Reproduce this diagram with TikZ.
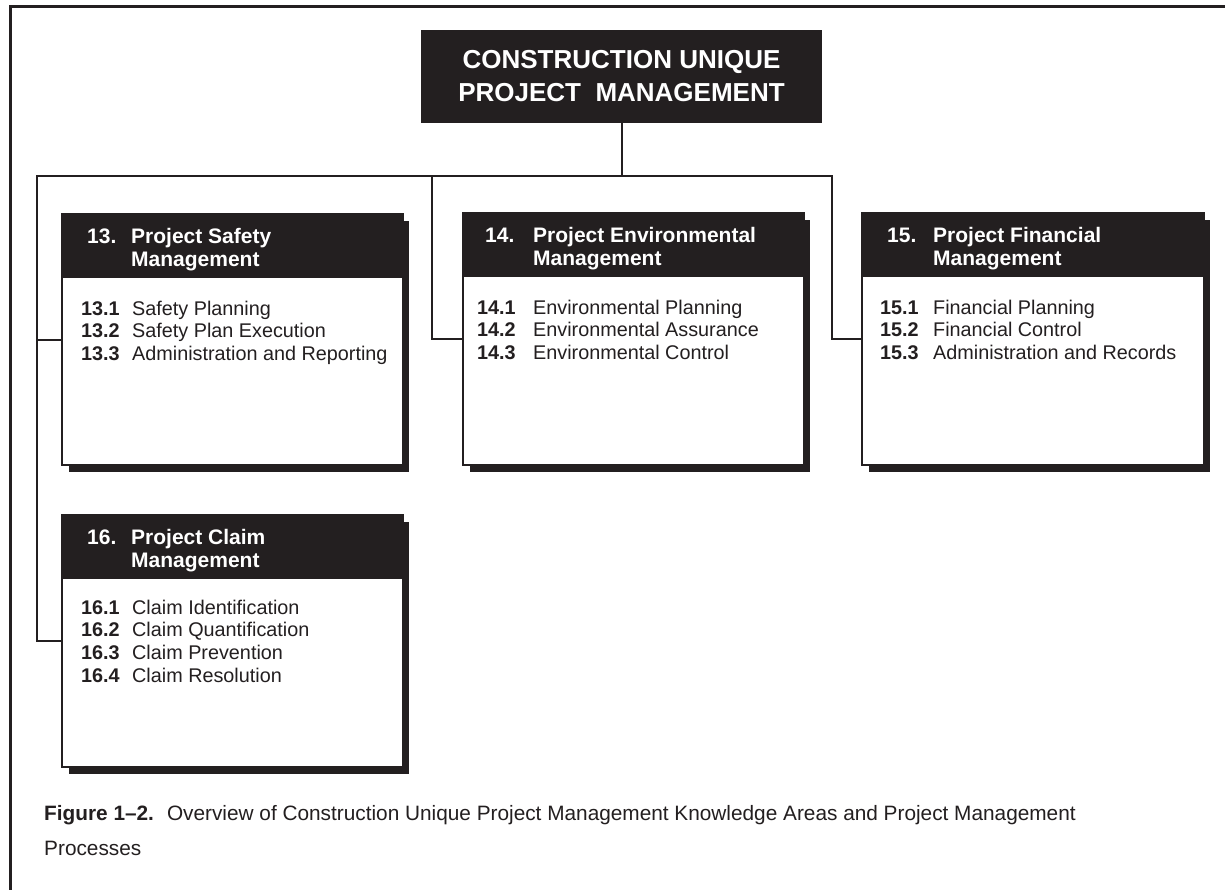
\documentclass[tikz,border=0pt]{standalone}
\usepackage{fontspec}
\setmainfont{Liberation Sans}
\usetikzlibrary{positioning}
\definecolor{ink}{HTML}{231F20}
\tikzset{
  conn/.style={draw=ink, line width=2pt},
  shadowbox/.style={fill=ink},
  bodybox/.style={draw=ink, fill=white, line width=2pt, anchor=north west, inner sep=0pt},
  headbox/.style={fill=ink, anchor=north west, inner sep=0pt},
  headtext/.style={text=white, anchor=west, inner sep=0pt, font=\fontsize{21}{23.5}\selectfont\bfseries},
  itemtext/.style={text=ink, anchor=north west, inner sep=0pt, font=\fontsize{19.8}{22.7}\selectfont},
  topbox/.style={fill=ink, text=white, align=center, inner sep=0pt, font=\fontsize{26}{33}\selectfont\bfseries},
  captext/.style={text=ink, anchor=north west, align=left, inner sep=0pt, font=\fontsize{20.8}{35}\selectfont}
}
\begin{document}
\begin{tikzpicture}[x=1pt,y=-1pt]
\useasboundingbox (0,0) rectangle (1225,890);
\fill[white] (0,0) rectangle (1225,890);
% frame
\draw[ink, line width=3pt] (10,890) -- (10,7) -- (1225,7);
% top box
\node[topbox, minimum width=401pt, minimum height=93pt] (top) at (621.5,76.5) {CONSTRUCTION UNIQUE\\PROJECT\ \ MANAGEMENT};
% box 13
\fill[shadowbox] (69,221) rectangle (409,472);
\node[bodybox, minimum width=341pt, minimum height=251pt] (b13) at (61,213) {};
\node[headbox, minimum width=341pt, minimum height=65pt] (h13) at (61,213) {};
\node[headtext] (t13) at (87,250.5) {\begin{tabular}{@{}p{44pt}@{}l@{}}13.&Project Safety\\&Management\end{tabular}};
\node[itemtext] (i13) at (81,299) {\begin{tabular}{@{}p{51pt}@{}l@{}}\textbf{13.1}&Safety Planning\\\textbf{13.2}&Safety Plan Execution\\\textbf{13.3}&Administration and Reporting\end{tabular}};
% box 14
\fill[shadowbox] (470,220) rectangle (810,472);
\node[bodybox, minimum width=341pt, minimum height=252pt] (b14) at (462,212) {};
\node[headbox, minimum width=341pt, minimum height=65pt] (h14) at (462,212) {};
\node[headtext] (t14) at (485,249.5) {\begin{tabular}{@{}p{48pt}@{}l@{}}14.&Project Environmental\\&Management\end{tabular}};
\node[itemtext] (i14) at (477,298) {\begin{tabular}{@{}p{56pt}@{}l@{}}\textbf{14.1}&Environmental Planning\\\textbf{14.2}&Environmental Assurance\\\textbf{14.3}&Environmental Control\end{tabular}};
% box 15
\fill[shadowbox] (869,220) rectangle (1210,472);
\node[bodybox, minimum width=342pt, minimum height=252pt] (b15) at (861,212) {};
\node[headbox, minimum width=342pt, minimum height=65pt] (h15) at (861,212) {};
\node[headtext] (t15) at (887,249.5) {\begin{tabular}{@{}p{46pt}@{}l@{}}15.&Project Financial\\&Management\end{tabular}};
\node[itemtext] (i15) at (880,298) {\begin{tabular}{@{}p{53pt}@{}l@{}}\textbf{15.1}&Financial Planning\\\textbf{15.2}&Financial Control\\\textbf{15.3}&Administration and Records\end{tabular}};
% box 16
\fill[shadowbox] (69,522) rectangle (409,774);
\node[bodybox, minimum width=341pt, minimum height=252pt] (b16) at (61,514) {};
\node[headbox, minimum width=341pt, minimum height=65pt] (h16) at (61,514) {};
\node[headtext] (t16) at (87,551.5) {\begin{tabular}{@{}p{44pt}@{}l@{}}16.&Project Claim\\&Management\end{tabular}};
\node[itemtext] (i16) at (81,598) {\begin{tabular}{@{}p{51pt}@{}l@{}}\textbf{16.1}&Claim Identification\\\textbf{16.2}&Claim Quantification\\\textbf{16.3}&Claim Prevention\\\textbf{16.4}&Claim Resolution\end{tabular}};
% connectors
\coordinate (busL) at (37,176);
\coordinate (busM) at (432,176);
\coordinate (busR) at (832,176);
\draw[conn] (top.south) -- (top.south |- busL);
\draw[conn] (b16.west) -| (busL) -- (busR) |- (b15.west);
\draw[conn] (b13.west) -- (b13.west -| busL);
\draw[conn] (busM) |- (b14.west);
% caption
\node[captext] (cap) at (44,805) {\textbf{Figure 1–2.}\hspace{13pt}Overview of Construction Unique Project Management Knowledge Areas and Project Management\\Processes};
\end{tikzpicture}
\end{document}
